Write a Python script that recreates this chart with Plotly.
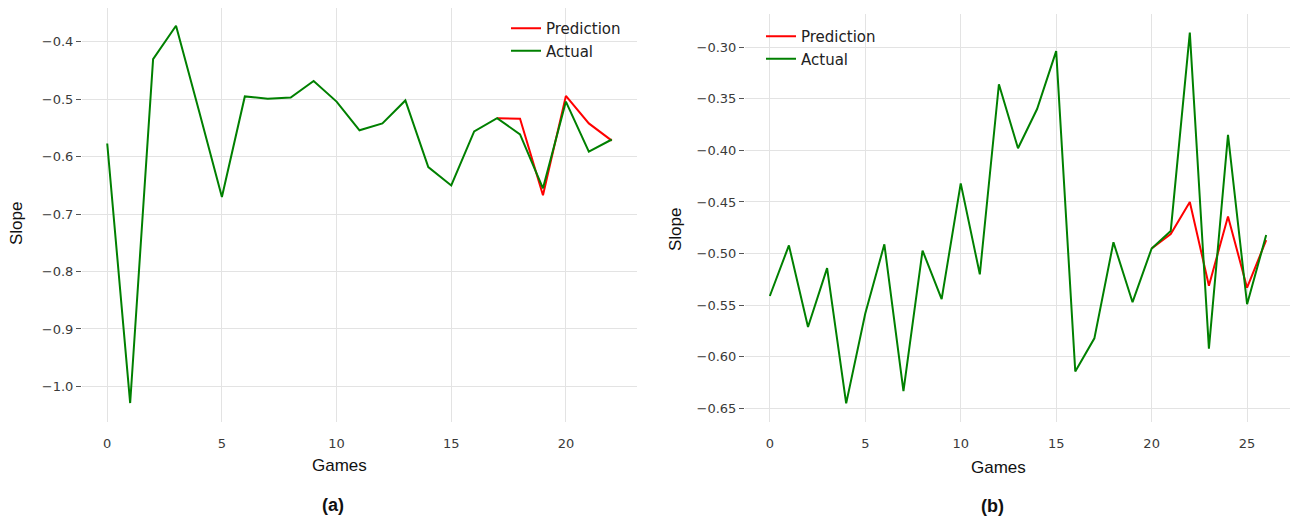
import plotly.graph_objects as go

# ---- Data: panel (a)
games_a = list(range(23))
actual_a = [-0.577, -1.029, -0.430, -0.372, -0.520, -0.670, -0.495, -0.499, -0.497, -0.468,
            -0.504, -0.554, -0.542, -0.502, -0.618, -0.650, -0.556, -0.533, -0.561, -0.655,
            -0.504, -0.591, -0.570]
pred_games_a = list(range(17, 23))
pred_a = [-0.533, -0.534, -0.667, -0.494, -0.542, -0.572]

# ---- Data: panel (b)
games_b = list(range(27))
actual_b = [-0.541, -0.492, -0.571, -0.514, -0.645, -0.558, -0.491, -0.633, -0.497, -0.544,
            -0.432, -0.520, -0.336, -0.398, -0.360, -0.304, -0.614, -0.582, -0.489, -0.547,
            -0.495, -0.478, -0.286, -0.592, -0.385, -0.549, -0.482]
pred_games_b = list(range(20, 27))
pred_b = [-0.495, -0.481, -0.450, -0.531, -0.464, -0.533, -0.487]

RED = "#ff0000"
GREEN = "#008000"
GRID = "#e3e3e3"
TICKFONT = dict(family="DejaVu Sans", size=13, color="#3a3a3a")
LEGFONT = dict(family="DejaVu Sans", size=15, color="#222222")

fig = go.Figure()
fig.add_trace(go.Scatter(x=pred_games_a, y=pred_a, mode="lines", name="Prediction",
                         line=dict(color=RED, width=2), xaxis="x", yaxis="y", legend="legend"))
fig.add_trace(go.Scatter(x=games_a, y=actual_a, mode="lines", name="Actual",
                         line=dict(color=GREEN, width=2), xaxis="x", yaxis="y", legend="legend"))
fig.add_trace(go.Scatter(x=pred_games_b, y=pred_b, mode="lines", name="Prediction",
                         line=dict(color=RED, width=2), xaxis="x2", yaxis="y2", legend="legend2"))
fig.add_trace(go.Scatter(x=games_b, y=actual_b, mode="lines", name="Actual",
                         line=dict(color=GREEN, width=2), xaxis="x2", yaxis="y2", legend="legend2"))

# page has an 8px body margin; figure sized to fit the 1298x517 window
OFF = 8
W, H = 1298 - OFF, 517 - OFF
def px_x(p):
    return min(max((p - OFF) / W, 0.0), 1.0)
def px_y(p):
    return min(max(1 - (p - OFF) / H, 0.0), 1.0)

xcommon = dict(showgrid=True, gridcolor=GRID, gridwidth=1, zeroline=False, showline=False,
               ticks="outside", ticklen=9, tickcolor="rgba(0,0,0,0)", tickfont=TICKFONT,
               dtick=5, tick0=0)
ycommon = dict(showgrid=True, gridcolor=GRID, gridwidth=1, zeroline=False, showline=False,
               ticks="outside", ticklen=5, tickcolor="#555555", tickwidth=1, tickfont=TICKFONT)

def label(text, x, y, size=17, angle=0):
    return dict(text=text, x=px_x(x), y=px_y(y), xref="paper", yref="paper",
                xanchor="center", yanchor="middle", showarrow=False, textangle=angle,
                font=dict(family="Liberation Sans, Arial", size=size, color="#111111"))

fig.update_layout(
    width=W, height=H,
    margin=dict(l=0, r=0, t=0, b=0),
    paper_bgcolor="white", plot_bgcolor="white",
    xaxis=dict(xcommon, domain=[px_x(82), px_x(637)], range=[-1.1, 23.1], anchor="y"),
    yaxis=dict(ycommon, domain=[px_y(422), px_y(8)], range=[-1.062, -0.341], anchor="x",
               tickvals=[-1.0, -0.9, -0.8, -0.7, -0.6, -0.5, -0.4], tickformat=".1f"),
    xaxis2=dict(xcommon, domain=[px_x(745), px_x(1291)], range=[-1.3, 27.3], anchor="y2"),
    yaxis2=dict(ycommon, domain=[px_y(422), px_y(14)], range=[-0.663, -0.268], anchor="x2",
                tickvals=[-0.65, -0.60, -0.55, -0.50, -0.45, -0.40, -0.35, -0.30], tickformat=".2f"),
    legend=dict(x=px_x(506), y=px_y(12), xanchor="left", yanchor="top", font=LEGFONT,
                bgcolor="rgba(255,255,255,0)", tracegroupgap=0, itemwidth=30),
    legend2=dict(x=px_x(761), y=px_y(20), xanchor="left", yanchor="top", font=LEGFONT,
                 bgcolor="rgba(255,255,255,0)", tracegroupgap=0, itemwidth=30),
    annotations=[
        label("Slope", 17, 224, angle=-90),
        label("Games", 339, 465),
        label("<b>(a)</b>", 333, 505, size=18),
        label("Slope", 675, 230, angle=-90),
        label("Games", 998, 467),
        label("<b>(b)</b>", 992, 506, size=18),
    ],
)

fig.write_html("out.html")
